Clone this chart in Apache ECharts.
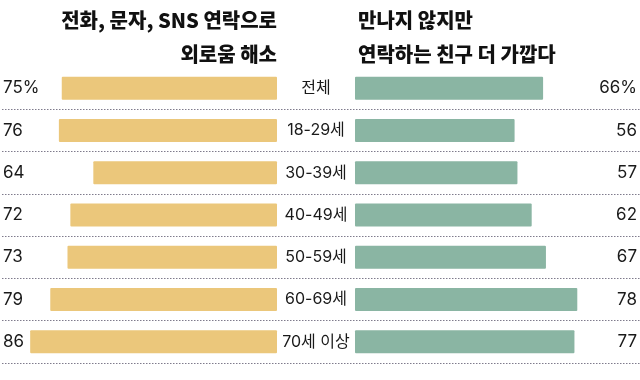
<!DOCTYPE html>
<html><head><meta charset="utf-8">
<script src="https://cdn.jsdelivr.net/npm/echarts@6/dist/echarts.min.js"></script>
<style>html,body{margin:0;padding:0;background:#fff}#c{width:640px;height:380px}</style>
</head><body><div id="c"></div>
<script>
const categories = ['전체', '18-29세', '30-39세', '40-49세', '50-59세', '60-69세', '70세 이상'];
const leftValues = [75, 76, 64, 72, 73, 79, 86];
const rightValues = [66, 56, 57, 62, 67, 78, 77];
const leftTitle = '전화, 문자, SNS 연락으로\n외로움 해소';
const rightTitle = '만나지 않지만\n연락하는 친구 더 가깝다';

const FONT = "Inter, 'Noto Sans CJK KR', sans-serif";
const KFONT = "'Noto Sans CJK KR', sans-serif";
const pxPerUnit = 2.87;
const fmt = (arr) => (v, i) => (i === 0 ? arr[i] + '%' : String(arr[i]));
const gridTop = 67, gridH = 296;

const hiddenCat = (extra) => Object.assign({
  type: 'category', data: categories, inverse: true,
  axisLine: { show: false }, axisTick: { show: false }
}, extra);

const titleStyle = { fontFamily: KFONT, fontSize: 20, fontWeight: 900, color: '#111', lineHeight: 34 };

const chart = echarts.init(document.getElementById('c'));
chart.setOption({
  animation: false,
  title: [
    { text: leftTitle, left: 277, top: 3, textAlign: 'right', padding: 0, textStyle: titleStyle },
    { text: rightTitle, left: 358, top: 3, textAlign: 'left', padding: 0, textStyle: titleStyle }
  ],
  grid: [
    { left: 0, right: 0, top: gridTop, height: gridH },
    { left: 0, width: 277, top: gridTop, height: gridH },
    { left: 355, right: 0, top: gridTop, height: gridH }
  ],
  xAxis: [
    { gridIndex: 0, type: 'value', show: false, min: 0, max: 100 },
    { gridIndex: 1, type: 'value', show: false, inverse: true, min: 0, max: 277 / pxPerUnit },
    { gridIndex: 2, type: 'value', show: false, min: 0, max: 285 / pxPerUnit }
  ],
  yAxis: [
    hiddenCat({ gridIndex: 0, position: 'left',
      axisLabel: { formatter: fmt(leftValues), align: 'left', margin: -1, fontFamily: FONT, fontSize: 17, color: '#1a1a1a' },
      splitLine: { show: true, showMinLine: false, showMaxLine: true, lineStyle: { type: [1.5, 1.5], color: '#7f7b8c', width: 1 } } }),
    hiddenCat({ gridIndex: 1, position: 'right',
      axisLabel: { align: 'center', margin: 39, fontFamily: FONT, fontSize: 16, color: '#1a1a1a' },
      splitLine: { show: false } }),
    hiddenCat({ gridIndex: 2, position: 'right',
      axisLabel: { formatter: fmt(rightValues), align: 'right', margin: -1, fontFamily: FONT, fontSize: 17, color: '#1a1a1a' },
      splitLine: { show: false } })
  ],
  series: [
    { type: 'bar', xAxisIndex: 1, yAxisIndex: 1, data: leftValues, barWidth: 23,
      itemStyle: { color: '#EBC77B', borderRadius: 1 }, silent: true },
    { type: 'bar', xAxisIndex: 2, yAxisIndex: 2, data: rightValues, barWidth: 23,
      itemStyle: { color: '#8AB5A3', borderRadius: 1 }, silent: true }
  ]
});
</script></body></html>
